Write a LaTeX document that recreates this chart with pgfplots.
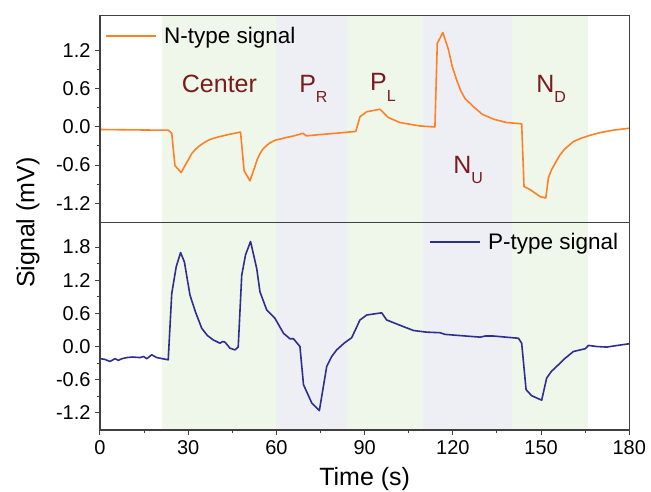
\documentclass[border=0pt]{standalone}
\usepackage{pgfplots}
\pgfplotsset{compat=1.18}
\usepackage{fontspec}
\setmainfont{Liberation Sans}

\definecolor{ncol}{HTML}{FF8124}
\definecolor{pcol}{HTML}{2E2E8E}
\definecolor{gshade}{HTML}{EFF6EA}
\definecolor{vshade}{HTML}{EEEEF5}
\definecolor{labcol}{HTML}{7A1C1C}
\definecolor{axcol}{HTML}{404040}

\newcommand{\reg}[2]{#1\raisebox{-0.42em}{\fontsize{16}{16}\selectfont #2}}

\pgfplotsset{
  panel/.style={
    width=529.3pt, height=207.3pt, scale only axis,
    xmin=0, xmax=180,
    axis line style={axcol, line width=1.1pt},
    tick style={axcol, line width=1pt},
    tick align=outside,
    major tick length=5pt, minor tick length=3pt,
    ytick pos=left, xtick pos=bottom,
    minor y tick num=1,
    tick label style={font=\fontsize{20}{24}\selectfont},
    /pgf/number format/assume math mode=true,
    /pgf/number format/fixed, /pgf/number format/fixed zerofill,
    /pgf/number format/precision=1,
    yticklabel style={xshift=-1pt},
    axis on top,
    legend cell align=left,
    legend style={draw=none, fill=none, font=\fontsize{22.5}{26}\selectfont,
      inner sep=1pt, column sep=5pt},
    legend image code/.code={\draw[#1, line width=1.6pt] (0pt,0pt) -- (50pt,0pt);},
  },
}

\begin{document}
\begin{tikzpicture}
% lower panel: P-type signal
\begin{axis}[panel, at={(0,0)},
  ymin=-1.51, ymax=2.24,
  ytick={-1.2,-0.6,0,0.6,1.2,1.8},
  xtick={0,30,...,180}, minor x tick num=1,
  xticklabel style={/pgf/number format/precision=0, /pgf/number format/fixed zerofill=false, yshift=-2pt},
  xlabel={Time (s)},
  xlabel style={font=\fontsize{25}{28}\selectfont, at={(axis description cs:0.5,0)}, anchor=base, yshift=-55pt},
  legend style={at={(0.985,0.965)}, anchor=north east},
]
  \fill[gshade] (axis cs:21,-1.51) rectangle (axis cs:60,2.24);
  \fill[vshade] (axis cs:60,-1.51) rectangle (axis cs:84,2.24);
  \fill[gshade] (axis cs:84,-1.51) rectangle (axis cs:110,2.24);
  \fill[vshade] (axis cs:110,-1.51) rectangle (axis cs:140,2.24);
  \fill[gshade] (axis cs:140,-1.51) rectangle (axis cs:166,2.24);
  \addplot[pcol, line width=1.6pt, line join=round] coordinates {
    (0,-0.22)(1.5,-0.23)(3.4,-0.27)(5.1,-0.22)(6.2,-0.25)(7.5,-0.22)(9.1,-0.2)
    (11,-0.19)(13.6,-0.2)(14.8,-0.18)(15.9,-0.22)(17.6,-0.15)(19.3,-0.2)(23.2,-0.24)
    (24.4,0.96)(25.9,1.44)(27.4,1.7)(28.7,1.53)(30.6,0.93)(32.5,0.62)(34.6,0.33)
    (36.5,0.2)(38.5,0.12)(40.8,0.06)(41.7,0.09)(42.5,0.08)(44.2,-0.03)(45.9,-0.06)
    (47,-0.01)(48.2,1.29)(49.5,1.66)(51.2,1.9)(53.3,1.41)(54.4,0.99)(56.7,0.66)
    (59.5,0.51)(62.4,0.24)(64.6,0.14)(65.8,0.14)(68,0.0)(69.2,-0.69)(72,-1.02)
    (74.6,-1.16)(77.1,-0.36)(78.8,-0.18)(80.5,-0.06)(83,0.06)(85.6,0.16)(88.4,0.48)(90.7,0.57)
    (95.8,0.61)(97.5,0.48)(103.2,0.36)(106.6,0.29)(111.1,0.26)(115.6,0.25)(117.3,0.22)
    (122,0.2)(129.3,0.17)(131,0.19)(133.8,0.19)(138,0.17)(142.3,0.15)(143.4,0.06)
    (144.9,-0.78)(146.8,-0.89)(150.2,-0.97)(151.9,-0.57)(153.5,-0.45)(155.3,-0.36)(158,-0.22)
    (161,-0.09)(165,-0.04)(166.1,0.02)(169,0.0)(172.3,-0.01)(176,0.02)(180,0.05)
  };
  \addlegendentry{P-type signal}
\end{axis}

% upper panel: N-type signal
\begin{axis}[panel, at={(0,207.3pt)},
  ymin=-1.51, ymax=1.76,
  ytick={-1.2,-0.6,0,0.6,1.2},
  xtick=\empty,
  legend style={at={(0.008,0.96)}, anchor=north west},
]
  \fill[gshade] (axis cs:21,-1.51) rectangle (axis cs:60,1.76);
  \fill[vshade] (axis cs:60,-1.51) rectangle (axis cs:84,1.76);
  \fill[gshade] (axis cs:84,-1.51) rectangle (axis cs:110,1.76);
  \fill[vshade] (axis cs:110,-1.51) rectangle (axis cs:140,1.76);
  \fill[gshade] (axis cs:140,-1.51) rectangle (axis cs:166,1.76);
  \addplot[ncol, line width=1.6pt, line join=round] coordinates {
    (0,-0.04)(10,-0.045)(20,-0.05)(23.2,-0.05)(24.4,-0.10)(25.5,-0.61)(27.6,-0.72)
    (29,-0.6)(30,-0.52)(31.2,-0.42)(32.3,-0.36)(33.5,-0.31)(35,-0.26)(36.8,-0.21)
    (38.5,-0.18)(40,-0.16)(43.6,-0.12)(47.8,-0.08)
    (49,-0.69)(51,-0.85)(52.5,-0.65)(53.4,-0.52)(54.4,-0.42)(55.4,-0.35)(56.5,-0.3)
    (57.8,-0.25)(59.5,-0.21)(63,-0.17)
    (66,-0.14)(69,-0.1)(70.2,-0.14)(74.8,-0.12)(80,-0.1)(87,-0.07)(88.4,0.16)
    (90.7,0.24)(95.2,0.28)(98,0.15)(102,0.07)(108.8,0.016)(113.9,0.0)(114.7,1.32)
    (116.6,1.49)(118.5,1.22)(119.8,0.95)(121.3,0.74)(122.6,0.58)(124.1,0.45)(127,0.32)
    (130,0.2)(134,0.12)
    (138.3,0.07)(143.4,0.05)(144.2,-0.94)(146.3,-0.99)(149.7,-1.1)(151.6,-1.12)
    (152.5,-0.8)(153.5,-0.68)(154.8,-0.57)(156.3,-0.45)(158,-0.35)(161,-0.23)
    (163.5,-0.18)(166.7,-0.13)(170,-0.09)(174.6,-0.05)(180,-0.02)
  };
  \addlegendentry{N-type signal}
  \begin{scope}[every node/.style={labcol, inner sep=0pt, anchor=base west, font=\fontsize{25}{28}\selectfont}]
    \node at (axis cs:27.8,0.54) {Center};
    \node at (axis cs:67.7,0.55) {\reg{P}{R}};
    \node at (axis cs:91.8,0.57) {\reg{P}{L}};
    \node at (axis cs:120.1,-0.73) {\reg{N}{U}};
    \node at (axis cs:148.3,0.55) {\reg{N}{D}};
  \end{scope}
\end{axis}

\node[rotate=90, font=\fontsize{25}{28}\selectfont] at (-72pt,207.3pt) {Signal (mV)};

\pgfresetboundingbox
\path[use as bounding box] (-100pt,-61pt) rectangle (551pt,430pt);
\end{tikzpicture}
\end{document}
